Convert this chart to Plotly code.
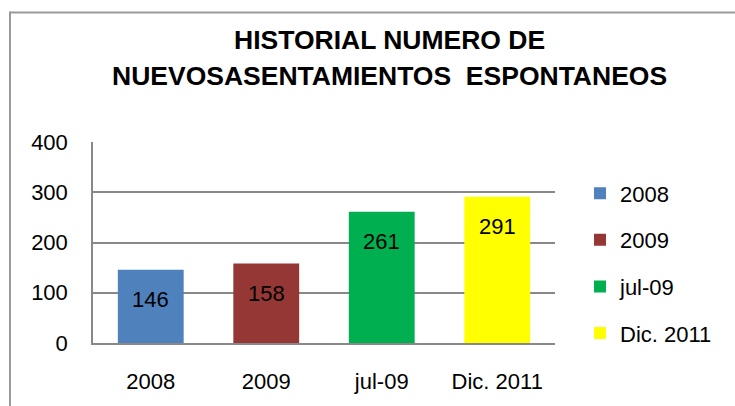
import plotly.graph_objects as go

categories = ["2008", "2009", "jul-09", "Dic. 2011"]
values = [146, 158, 261, 291]
colors = ["#4F81BD", "#953735", "#00B050", "#FFFF00"]
y_ticks = [0, 100, 200, 300, 400]
title_lines = ["HISTORIAL NUMERO DE", "NUEVOSASENTAMIENTOS \u00a0ESPONTANEOS"]

W, H = 735, 406
L, R, T, B = 93, 180, 142, 59
pw, ph = W - L - R, H - T - B

def px_x(p):
    return (p - L) / pw

def px_y(p):
    return 1 - (p - T) / ph

FONT = "Liberation Sans, Arial, sans-serif"

fig = go.Figure()
for i, (c, v, col) in enumerate(zip(categories, values, colors)):
    fig.add_trace(go.Bar(
        x=[c], y=[v], name=c, marker=dict(color=col, line=dict(width=0)),
        width=0.57, legendgroup=f"g{i}", hoverinfo="skip",
    ))
    fig.add_annotation(x=i, y=v, xref="x", yref="y", text=str(v), showarrow=False,
                       yshift=-30, font=dict(size=22, color="black", family=FONT))

for line, yp in zip(title_lines, [38, 75]):
    fig.add_annotation(x=px_x(389), xref="paper", y=px_y(yp), yref="paper",
                       xanchor="center", yanchor="middle", showarrow=False,
                       text=f"<b>{line}</b>",
                       font=dict(size=26.5, color="black", family=FONT))

# outer chart border (top and left)
fig.add_shape(type="line", xref="paper", yref="paper",
              x0=px_x(10), x1=px_x(760), y0=px_y(10), y1=px_y(10),
              line=dict(color="#9a9a9a", width=2))
fig.add_shape(type="line", xref="paper", yref="paper",
              x0=px_x(10), x1=px_x(10), y0=px_y(9), y1=px_y(430),
              line=dict(color="#9a9a9a", width=2))

fig.update_layout(
    width=W, height=H,
    margin=dict(l=L, r=R, t=T, b=B),
    paper_bgcolor="white", plot_bgcolor="white",
    barmode="overlay",
    showlegend=True,
    legend=dict(x=px_x(580), y=px_y(173), xanchor="left", yanchor="top",
                font=dict(size=22, color="black", family=FONT),
                tracegroupgap=15, itemclick=False, bgcolor="rgba(0,0,0,0)"),
    font=dict(family=FONT, color="black"),
)
fig.update_xaxes(type="category", categoryorder="array", categoryarray=categories,
                 range=[-0.5, 3.5],
                 showgrid=False, showline=True, linecolor="#888888", linewidth=1.5,
                 tickfont=dict(size=22, color="black"), ticks="",
                 ticklabelstandoff=18, fixedrange=True)
fig.update_yaxes(range=[0, 400], tickvals=y_ticks, showgrid=True,
                 gridcolor="#888888", gridwidth=1.5, showline=True,
                 linecolor="#888888", linewidth=1.5, zeroline=False,
                 tickfont=dict(size=22, color="black"), ticks="",
                 ticklabelstandoff=19, fixedrange=True)

fig.write_html("out.html")
